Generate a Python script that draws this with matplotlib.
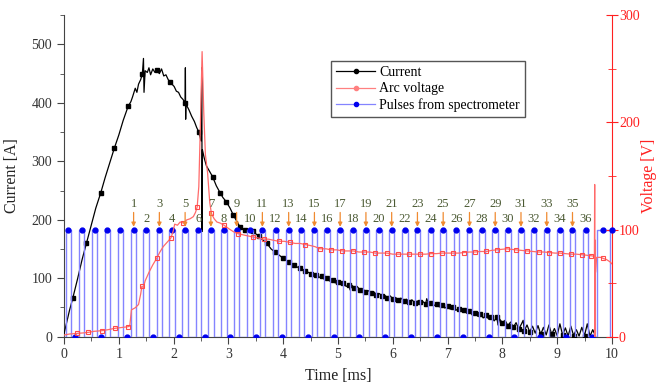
import numpy as np
import matplotlib
matplotlib.use("Agg")
import matplotlib.pyplot as plt

plt.rcParams["font.family"] = ["Liberation Serif", "DejaVu Serif"]

# arc current [A] vs time [ms]
CUR_T = [0.00, 0.05, 0.10, 0.16, 0.25, 0.33, 0.41, 0.50, 0.58, 0.67, 0.75, 0.83,
         0.92, 1.00, 1.08, 1.17, 1.22, 1.25, 1.30, 1.33, 1.36, 1.40, 1.43, 1.45,
         1.46, 1.48, 1.52, 1.55, 1.58, 1.62, 1.66, 1.70, 1.74, 1.78, 1.82, 1.86,
         1.90, 1.93, 1.97, 2.01, 2.05, 2.09, 2.13, 2.17, 2.21, 2.215, 2.22, 2.225,
         2.28, 2.33, 2.38, 2.42, 2.46, 2.50, 2.515, 2.52, 2.525, 2.56, 2.60, 2.66,
         2.71, 2.78, 2.85, 2.90, 2.96, 3.03, 3.09, 3.15, 3.21, 3.30, 3.38, 3.45,
         3.55, 3.62, 3.70, 3.78, 3.85, 3.92, 4.00, 4.10, 4.20, 4.30, 4.40, 4.50,
         4.60, 4.65, 4.70, 4.75, 4.80, 4.85, 4.90, 4.95, 5.00, 5.05, 5.10, 5.15,
         5.20, 5.22, 5.25, 5.30, 5.35, 5.40, 5.45, 5.50, 5.55, 5.60, 5.65, 5.70,
         5.75, 5.80, 5.85, 5.90, 5.95, 6.00, 6.05, 6.10, 6.15, 6.20, 6.25, 6.30,
         6.35, 6.40, 6.45, 6.50, 6.55, 6.60, 6.62, 6.65, 6.70, 6.75, 6.80, 6.85,
         6.90, 6.95, 7.00, 7.05, 7.10, 7.15, 7.20, 7.25, 7.30, 7.35, 7.40, 7.45,
         7.50, 7.55, 7.60, 7.65, 7.70, 7.75, 7.80, 7.85, 7.90, 7.92, 7.95, 8.00,
         8.05, 8.10, 8.15, 8.20, 8.25, 8.30, 8.35, 8.38, 8.40, 8.45, 8.50, 8.55,
         8.60, 8.65, 8.70, 8.75, 8.80, 8.85, 8.90, 8.95, 9.00, 9.05, 9.10, 9.15,
         9.20, 9.25, 9.30, 9.35, 9.40, 9.45, 9.50, 9.55, 9.60, 9.65, 9.70]
CUR_I = [5, 25, 45, 66, 100, 132, 160, 192, 220, 246, 272, 296,
         323, 345, 370, 394, 402, 410, 425, 418, 432, 440, 450, 476,
         418, 455, 452, 460, 448, 458, 452, 456, 450, 458, 446, 448,
         440, 436, 432, 428, 420, 418, 410, 406, 400, 460, 372, 398,
         388, 377, 368, 358, 350, 335, 460, 180, 320, 305, 292, 282,
         274, 258, 246, 238, 231, 220, 208, 198, 188, 182, 182, 180,
         172, 166, 160, 150, 145, 140, 134, 128, 122, 117, 113, 108,
         105, 101, 104, 98, 100, 95, 97, 92, 94, 89, 91, 86,
         89, 80, 88, 84, 86, 80, 82, 77, 79, 75, 77, 72,
         74, 70, 71, 67, 70, 65, 67, 63, 66, 61, 64, 60,
         63, 58, 61, 59, 60, 56, 65, 57, 58, 53, 56, 51,
         54, 49, 52, 47, 50, 45, 48, 43, 46, 40, 44, 37,
         41, 35, 39, 32, 37, 30, 34, 27, 33, 20, 30, 24,
         28, 19, 25, 16, 24, 13, 22, 28, 10, 20, 8, 18,
         6, 19, 4, 16, 3, 20, 4, 14, 2, 22, 3, 15,
         1, 18, 2, 12, 1, 16, 2, 22, 1, 12, 1]
CUR_MARKS = [0.16, 0.41, 0.67, 0.92, 1.17, 1.43, 1.70, 1.93, 2.21, 2.46, 2.71,
             2.85, 2.96, 3.09, 3.21, 3.30, 3.45, 3.55, 3.70, 3.85, 4.00, 4.10,
             4.20, 4.30, 4.40, 4.50, 4.60, 4.70, 4.80, 4.90, 5.00, 5.10, 5.20,
             5.30, 5.40, 5.50, 5.60, 5.70, 5.80, 5.90, 6.00, 6.10, 6.20, 6.30,
             6.40, 6.50, 6.60, 6.70, 6.80, 6.90, 7.00, 7.10, 7.20, 7.30, 7.40,
             7.50, 7.60, 7.70, 7.80, 7.90, 8.00, 8.10, 8.20, 8.30, 8.40, 8.50,
             8.70, 8.90, 9.10, 9.30, 9.50]

# arc voltage [V]
VOLT_T = [0.00, 0.10, 0.23, 0.35, 0.44, 0.55, 0.69, 0.80, 0.93, 1.05, 1.17, 1.20,
          1.23, 1.30, 1.36, 1.40, 1.42, 1.45, 1.48, 1.55, 1.62, 1.69, 1.75, 1.81,
          1.88, 1.95, 1.99, 2.02, 2.07, 2.12, 2.18, 2.24, 2.30, 2.36, 2.40, 2.43,
          2.46, 2.49, 2.52, 2.55, 2.58, 2.62, 2.66, 2.69, 2.74, 2.79, 2.85, 2.92,
          3.00, 3.09, 3.18, 3.27, 3.36, 3.45, 3.55, 3.65, 3.73, 3.82, 3.92, 4.02,
          4.12, 4.22, 4.31, 4.40, 4.50, 4.58, 4.67, 4.78, 4.88, 4.98, 5.08, 5.18,
          5.28, 5.38, 5.48, 5.58, 5.68, 5.78, 5.89, 6.00, 6.10, 6.20, 6.30, 6.40,
          6.50, 6.60, 6.70, 6.80, 6.90, 7.00, 7.10, 7.20, 7.30, 7.40, 7.50, 7.60,
          7.71, 7.80, 7.90, 8.00, 8.08, 8.16, 8.25, 8.35, 8.45, 8.56, 8.66, 8.76,
          8.86, 8.96, 9.05, 9.15, 9.25, 9.35, 9.45, 9.54, 9.62, 9.68, 9.685, 9.69,
          9.695, 9.70, 9.72, 9.80, 9.84, 9.90, 9.96, 10.00]
VOLT_V = [1.5, 2.5, 3, 3.5, 4, 5, 5.6, 6.5, 7.8, 8.5, 9.3, 10,
          25, 27, 30, 40, 47, 46, 52, 60, 67, 73, 79, 84,
          88, 92, 98, 105, 104, 107, 106, 109, 110, 112, 116, 121,
          140, 200, 266, 210, 170, 153, 125, 115, 110, 107, 106, 104,
          101, 98, 96, 95, 94, 93, 92, 91, 91, 90, 89, 89,
          88, 87, 87, 86, 85, 84, 82, 82, 81, 81, 80, 80,
          80, 79, 79, 79, 78, 78, 78, 77, 77, 77, 77, 77,
          77, 77, 77.5, 77.5, 78, 78, 78, 78, 78.5, 79, 79, 79.5,
          79.5, 80.5, 81, 81.5, 82, 81.5, 81, 80.5, 80, 79.5, 79, 79,
          78.5, 78, 78, 77.5, 77, 77, 76.5, 76, 75.5, 75, 142, 0,
          90, 60, 74, 74, 73, 72, 70, 68]
VOLT_MARKS = [0.23, 0.44, 0.69, 0.93, 1.17, 1.42, 1.69, 1.95, 2.18, 2.43, 2.69,
              2.92, 3.18, 3.45, 3.65, 3.92, 4.12, 4.40, 4.67, 4.88, 5.08, 5.28,
              5.48, 5.68, 5.89, 6.10, 6.30, 6.50, 6.70, 6.90, 7.10, 7.30, 7.50,
              7.71, 7.90, 8.08, 8.25, 8.45, 8.66, 8.86, 9.05, 9.25, 9.45, 9.62,
              9.84]

# spectrometer gate pulses: rise / fall times [ms], level on the voltage scale
PULSE_ON = [0.03, 0.27, 0.51, 0.74, 0.98, 1.22, 1.45, 1.69, 1.92, 2.16, 2.40,
            2.63, 2.87, 3.10, 3.34, 3.57, 3.81, 4.05, 4.28, 4.52, 4.75, 4.99,
            5.22, 5.46, 5.70, 5.93, 6.17, 6.40, 6.64, 6.87, 7.11, 7.35, 7.58,
            7.82, 8.05, 8.29, 8.52, 8.76, 9.00, 9.23, 9.47, 9.72]
PULSE_OFF = [0.13, 0.37, 0.61, 0.84, 1.08, 1.32, 1.55, 1.79, 2.02, 2.26, 2.50,
             2.73, 2.97, 3.20, 3.44, 3.67, 3.91, 4.15, 4.38, 4.62, 4.85, 5.09,
             5.32, 5.56, 5.80, 6.03, 6.27, 6.50, 6.74, 6.97, 7.21, 7.45, 7.68,
             7.92, 8.15, 8.39, 8.62, 8.86, 9.10, 9.33, 9.57, 9.96]
PULSE_HIGH = 100
FIRST_LABELLED = 5          # index of pulse "1"
N_LABELS = 36

fig = plt.figure(figsize=(6.58, 3.89), dpi=100)
ax = fig.add_axes([0.0973, 0.1345, 0.8327, 0.8265])
ax2 = ax.twinx()

# current
ct = np.array(CUR_T)
cmask = np.array([np.any(np.isclose(t, CUR_MARKS)) for t in ct])
ax.plot(ct, CUR_I, color="black", lw=0.9, marker="s", ms=2.6,
        markevery=list(np.where(cmask)[0]), zorder=3)

# pulses: build the step trace, with a mid-plateau point for the marker
px, py, pmark = [0.0], [0], []
for i, (t0, t1) in enumerate(zip(PULSE_ON, PULSE_OFF)):
    px += [t0, t0]
    py += [0, PULSE_HIGH]
    px.append((t0 + t1) / 2); py.append(PULSE_HIGH); pmark.append(len(px) - 1)
    px += [t1, t1]
    py += [PULSE_HIGH, 0]
    nxt = PULSE_ON[i + 1] if i + 1 < len(PULSE_ON) else 10.0
    px.append((t1 + nxt) / 2); py.append(0)
    if i % 2 == 0:
        pmark.append(len(px) - 1)
px.append(10.0); py.append(0)
ax2.plot(px, py, color="#8484ff", lw=1.0, marker="o", ms=3.5,
         mfc="#0000ee", mec="#0000ee", markevery=pmark, zorder=1)
ax2.plot([10.0], [PULSE_HIGH], "o", color="#0000ee", ms=3.5, clip_on=False, zorder=4)

# arc voltage
vt = np.array(VOLT_T)
vmask = np.array([np.any(np.isclose(t, VOLT_MARKS)) for t in vt])
ax2.plot(vt, VOLT_V, color="#ff6a6a", lw=0.9, marker="s", ms=3.5, mfc="none",
         mec="#ff4a4a", mew=0.8, markevery=list(np.where(vmask)[0]), zorder=2)

# pulse numbering: odd numbers with arrows above, even ones in a lower row
for k in range(1, N_LABELS + 1):
    i = FIRST_LABELLED + k - 1
    xc = (PULSE_ON[i] + PULSE_OFF[i]) / 2
    if k % 2:
        ax2.annotate(str(k), xy=(xc, 102.5), xytext=(xc, 118.5),
                     ha="center", va="bottom", fontsize=9, color="#4b5a33",
                     arrowprops=dict(arrowstyle="-|>", color="#f08a30", lw=0.9,
                                     mutation_scale=6, shrinkA=0, shrinkB=0))
    else:
        ax2.text(xc, 104, str(k), ha="center", va="bottom", fontsize=9,
                 color="#4b5a33")

# axes
ax.set_xlim(0, 10)
ax.set_ylim(0, 550)
ax2.set_ylim(0, 300)
ax.set_xticks(range(0, 11))
ax.set_xticks(np.arange(0.5, 10, 1.0), minor=True)
ax.set_yticks(range(0, 501, 100))
ax.set_yticks(range(50, 551, 100), minor=True)
ax2.set_yticks([0, 100, 200, 300])
ax2.set_yticks([50, 150, 250], minor=True)

for a in (ax, ax2):
    a.spines["top"].set_visible(False)
ax2.spines["left"].set_visible(False)
ax2.spines["bottom"].set_visible(False)
ax.spines["right"].set_visible(False)
ax.spines["left"].set_color("#444444")
ax.spines["bottom"].set_color("#444444")
ax2.spines["right"].set_color("#ff2020")

ax.tick_params(axis="both", which="major", labelsize=10, length=5, color="#444444",
               labelcolor="#333333")
ax.tick_params(axis="both", which="minor", length=3, color="#444444")
ax2.tick_params(axis="y", which="major", direction="inout", length=8, pad=1,
                labelsize=10, color="#ff2020", labelcolor="#ff2020")
ax2.tick_params(axis="y", which="minor", direction="inout", length=6, color="#ff2020")

ax.set_xlabel("Time [ms]", fontsize=11.5, labelpad=5, color="#222222")
ax.set_ylabel("Current [A]", fontsize=11.5, labelpad=8, color="#222222")
ax2.set_ylabel("Voltage [V]", fontsize=11.5, labelpad=1, color="#ff2020")

# legend built from the plotted styles
h1 = plt.Line2D([], [], color="black", lw=0.9, marker="o", ms=3)
h2 = plt.Line2D([], [], color="#ff8080", lw=0.9, marker="o", ms=3, mfc="#ff8080",
                mec="#ff8080")
h3 = plt.Line2D([], [], color="#8484ff", lw=0.9, marker="o", ms=3, mfc="#0000ee",
                mec="#0000ee")
leg = ax2.legend([h1, h2, h3], ["Current", "Arc voltage", "Pulses from spectrometer"],
                 loc="upper left", bbox_to_anchor=(0.488, 0.856), fontsize=10,
                 frameon=True, fancybox=False, framealpha=1, borderpad=0.35,
                 labelspacing=0.22, handlelength=2.8, handletextpad=0.3,
                 borderaxespad=0)
leg.get_frame().set_edgecolor("#555555")
leg.get_frame().set_linewidth(1.0)

fig.savefig("out.png", dpi=100)
